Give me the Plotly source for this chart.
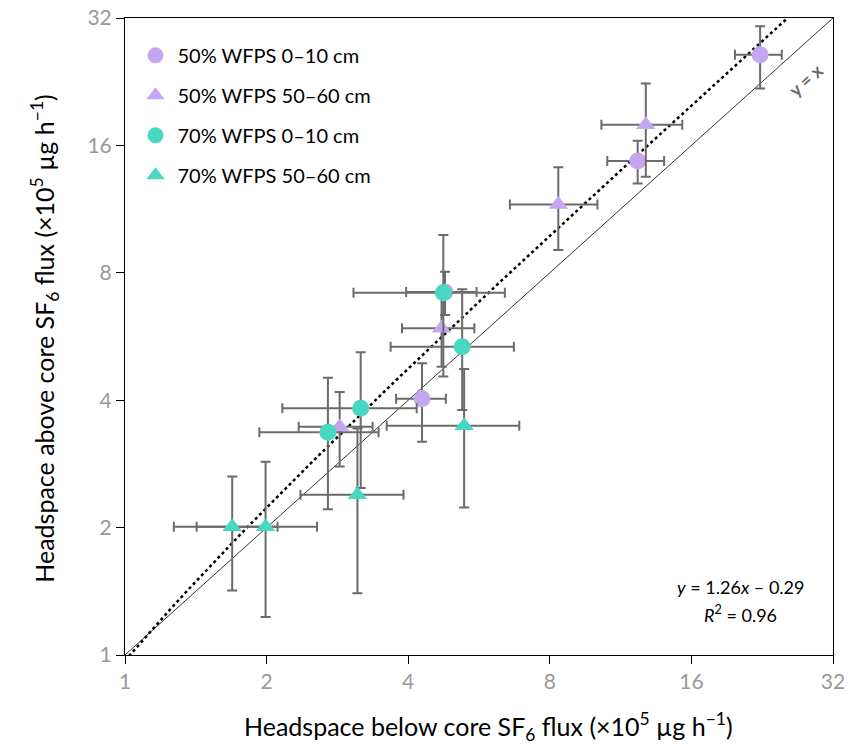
import plotly.graph_objects as go
import numpy as np

# ---- data (×10^5 µg h^-1) ----
series_names = ["50% WFPS 0–10 cm", "50% WFPS 50–60 cm", "70% WFPS 0–10 cm", "70% WFPS 50–60 cm"]

p_circ_x = [22.4, 12.3, 4.79, 4.28]
p_circ_x_lo = [19.8, 10.6, 3.96, 3.77]
p_circ_x_hi = [24.9, 14.0, 5.59, 4.81]
p_circ_y = [26.2, 14.7, 7.21, 4.03]
p_circ_y_lo = [21.8, 13.0, 6.36, 3.19]
p_circ_y_hi = [30.6, 16.4, 8.05, 4.89]

p_tri_x = [12.8, 8.34, 4.71, 2.86]
p_tri_x_lo = [10.3, 6.58, 3.88, 2.34]
p_tri_x_hi = [15.3, 10.1, 5.53, 3.36]
p_tri_y = [17.9, 11.6, 5.92, 3.46]
p_tri_y_lo = [13.5, 9.06, 4.80, 2.79]
p_tri_y_hi = [22.4, 14.2, 7.28, 4.18]

t_circ_x = [4.75, 5.21, 3.17, 2.70]
t_circ_x_lo = [3.06, 3.67, 2.16, 1.93]
t_circ_x_hi = [6.42, 6.71, 4.17, 3.46]
t_circ_y = [7.18, 5.35, 3.83, 3.36]
t_circ_y_lo = [4.55, 3.79, 2.48, 2.21]
t_circ_y_hi = [9.83, 7.32, 5.19, 4.52]

t_tri_x = [5.26, 1.69, 1.99, 3.12]
t_tri_x_lo = [3.60, 1.27, 1.42, 2.36]
t_tri_x_hi = [6.89, 2.11, 2.56, 3.91]
t_tri_y = [3.48, 2.01, 2.01, 2.39]
t_tri_y_lo = [2.23, 1.42, 1.23, 1.40]
t_tri_y_hi = [4.74, 2.64, 2.86, 3.43]

fit_slope = 1.26
fit_intercept = -0.29
tick_vals = [1, 2, 4, 8, 16, 32]

PURPLE = "#C4A7F0"
TEAL = "#48D8C2"
ERR = "#6b6b6b"
FONT = "Lato"

fig = go.Figure()

# y = x line
fig.add_trace(go.Scatter(x=[1, 32], y=[1, 32], mode="lines",
                         line=dict(color="#333333", width=1), showlegend=False, hoverinfo="skip"))
# regression line
fx = np.linspace(1.0, (32 - fit_intercept) / fit_slope, 200)
fig.add_trace(go.Scatter(x=fx, y=fit_slope * fx + fit_intercept, mode="lines",
                         line=dict(color="black", width=2.5, dash="dot"), showlegend=False, hoverinfo="skip"))


def add_series(name, x, xlo, xhi, y, ylo, yhi, color, symbol):
    fig.add_trace(go.Scatter(
        x=x, y=y, mode="markers", name=name, legendgroup=name,
        marker=dict(color=color, symbol=symbol, size=17, line=dict(width=0)),
        error_x=dict(type="data", symmetric=False,
                     array=[h - v for h, v in zip(xhi, x)],
                     arrayminus=[v - l for v, l in zip(x, xlo)],
                     color=ERR, thickness=2, width=5),
        error_y=dict(type="data", symmetric=False,
                     array=[h - v for h, v in zip(yhi, y)],
                     arrayminus=[v - l for v, l in zip(y, ylo)],
                     color=ERR, thickness=2, width=5),
    ))


add_series(series_names[0], p_circ_x, p_circ_x_lo, p_circ_x_hi, p_circ_y, p_circ_y_lo, p_circ_y_hi, PURPLE, "circle")
add_series(series_names[1], p_tri_x, p_tri_x_lo, p_tri_x_hi, p_tri_y, p_tri_y_lo, p_tri_y_hi, PURPLE, "triangle-up")
add_series(series_names[2], t_circ_x, t_circ_x_lo, t_circ_x_hi, t_circ_y, t_circ_y_lo, t_circ_y_hi, TEAL, "circle")
add_series(series_names[3], t_tri_x, t_tri_x_lo, t_tri_x_hi, t_tri_y, t_tri_y_lo, t_tri_y_hi, TEAL, "triangle-up")

axis_common = dict(
    type="log", range=[0, np.log10(32)], tickvals=tick_vals, ticktext=[str(v) for v in tick_vals],
    showgrid=False, zeroline=False, showline=True, linecolor="black", linewidth=1, mirror=True,
    ticks="outside", ticklen=8, tickcolor="black", tickwidth=1, automargin=False,
    tickfont=dict(family=FONT, size=21, color="#999999"),
)

fig.update_layout(
    width=861, height=746,
    margin=dict(l=125, r=28, t=18, b=91),
    paper_bgcolor="white", plot_bgcolor="white",
    font=dict(family=FONT, color="black"),
    xaxis=dict(**axis_common),
    yaxis=dict(**axis_common),
    legend=dict(x=0.012, y=0.972, xanchor="left", yanchor="top", bgcolor="rgba(0,0,0,0)",
                font=dict(family=FONT, size=20, color="black"), tracegroupgap=11,
                itemwidth=34),
    showlegend=True,
)

# axis titles
fig.add_annotation(x=0.513, y=-0.112, xref="paper", yref="paper", xanchor="center", yanchor="middle",
                   text="Headspace below core SF<sub>6</sub> flux (×10<sup>5</sup> µg h<sup>−1</sup>)",
                   showarrow=False, font=dict(family=FONT, size=25, color="black"))
fig.add_annotation(x=-0.113, y=0.498, xref="paper", yref="paper", xanchor="center", yanchor="middle",
                   text="Headspace above core SF<sub>6</sub> flux (×10<sup>5</sup> µg h<sup>−1</sup>)",
                   showarrow=False, textangle=-90, font=dict(family=FONT, size=25, color="black"))

fig.add_annotation(x=np.log10(28.0), y=np.log10(22.8), xref="x", yref="y",
                   text="<b>y = x</b>", showarrow=False, textangle=-42,
                   font=dict(family=FONT, size=18, color="#6a6a6a"))
fig.add_annotation(x=0.869, y=0.106, xref="paper", yref="paper", xanchor="center", yanchor="middle",
                   text="<i>y</i> = 1.26<i>x</i> – 0.29", showarrow=False,
                   font=dict(family=FONT, size=18, color="black"))
fig.add_annotation(x=0.869, y=0.064, xref="paper", yref="paper", xanchor="center", yanchor="middle",
                   text="<i>R</i><sup>2</sup> = 0.96", showarrow=False,
                   font=dict(family=FONT, size=18, color="black"))

fig.write_html("out.html", config={"displayModeBar": False},
               post_script="document.body.style.margin='0';document.body.style.overflow='hidden';")
